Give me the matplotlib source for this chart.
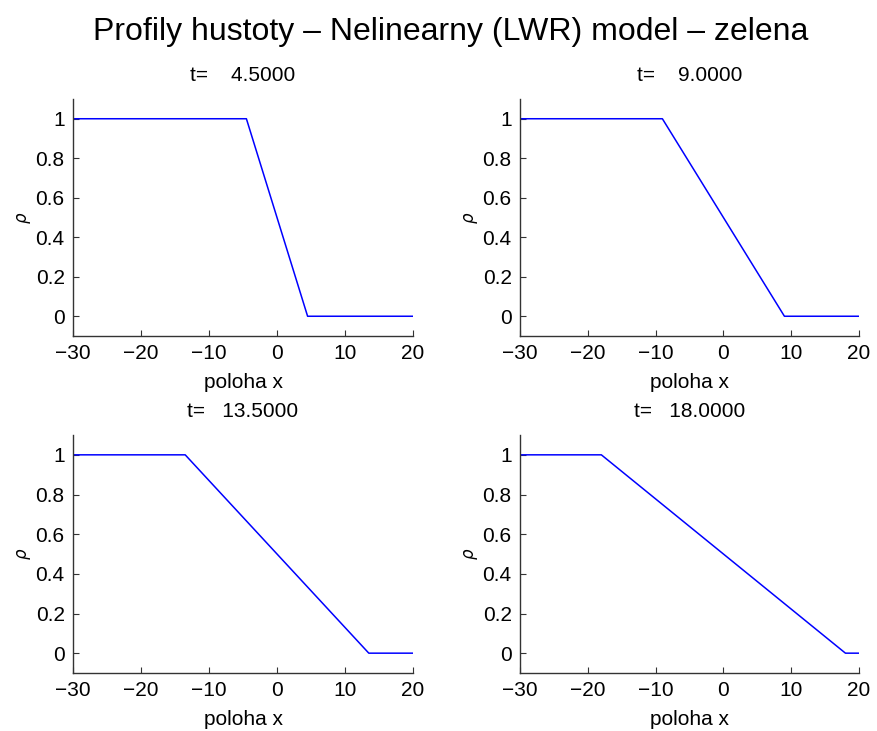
import matplotlib.pyplot as plt

plt.rcParams['font.family'] = ['Liberation Sans', 'DejaVu Sans']

# casy a zlomove body profilu hustoty
times = [4.5, 9.0, 13.5, 18.0]
x_pts = [
    [-30, -4.5, 4.5, 20],
    [-30, -9.0, 9.0, 20],
    [-30, -13.5, 13.5, 20],
    [-30, -18.0, 18.0, 20],
]
rho_pts = [
    [1, 1, 0, 0],
    [1, 1, 0, 0],
    [1, 1, 0, 0],
    [1, 1, 0, 0],
]
xticks = [-30, -20, -10, 0, 10, 20]
yticks = [0, 0.2, 0.4, 0.6, 0.8, 1]

W, H = 877, 731
fig = plt.figure(figsize=(W / 100, H / 100), dpi=100)

# pozice os v pixelech: (left, top, right, bottom)
boxes = [
    (73, 99, 413, 336),
    (520, 99, 859, 336),
    (73, 435, 413, 673),
    (520, 435, 859, 673),
]

for i, (l, t, r, b) in enumerate(boxes):
    ax = fig.add_axes([l / W, 1 - b / H, (r - l) / W, (b - t) / H])
    ax.plot(x_pts[i], rho_pts[i], color='blue', linewidth=1.1)
    ax.set_xlim(-30, 20)
    ax.set_ylim(-0.1, 1.1)
    ax.set_xticks(xticks)
    ax.set_yticks(yticks)
    ax.set_yticklabels(['0', '0.2', '0.4', '0.6', '0.8', '1'])
    for s in ['top', 'right']:
        ax.spines[s].set_visible(False)
    for s in ['left', 'bottom']:
        ax.spines[s].set_color('#333333')
        ax.spines[s].set_linewidth(1.0)
    ax.tick_params(direction='in', length=4, width=0.8, colors='#333333',
                   labelcolor='black', labelsize=15, pad=6)
    ax.set_title('t= %9.4f' % times[i], fontsize=15, pad=13)
    ax.set_xlabel('poloha x', fontsize=15, labelpad=7)
    ax.set_ylabel(r'$\rho$', fontsize=12, labelpad=2)

fig.suptitle('Profily hustoty \u2013 Nelinearny (LWR) model \u2013 zelena',
             fontsize=23, x=451 / W, y=1 - 32 / H, va='center')

fig.savefig('out.png', dpi=100)
